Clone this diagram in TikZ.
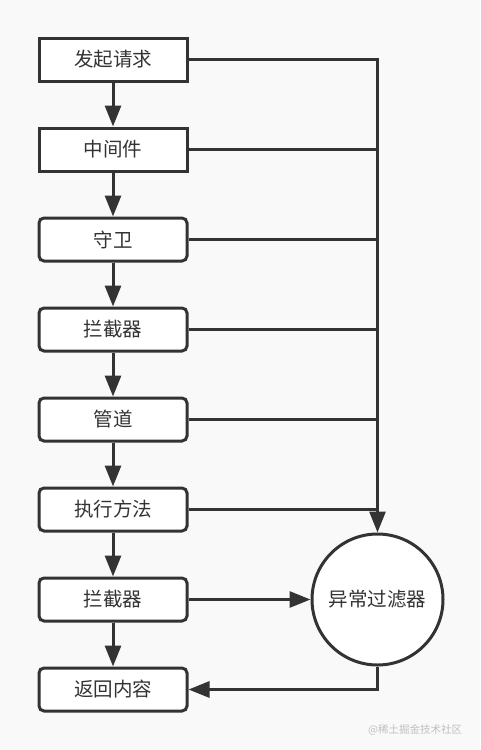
\documentclass[tikz,border=0pt]{standalone}
\usepackage{fontspec}
\setmainfont{Noto Sans CJK SC}
\usepackage{xcolor}
\usetikzlibrary{arrows.meta}
\definecolor{ink}{HTML}{333333}
\definecolor{paper}{HTML}{F9F9F9}

\begin{document}
\begin{tikzpicture}[x=1pt,y=1pt,font=\fontsize{19.5}{23}\selectfont,
 line width=3pt,draw=ink,
 stage/.style={draw=ink,fill=white,minimum width=148pt,minimum height=43pt,inner sep=0pt,text=ink},
 roundstage/.style={stage,rounded corners=5pt},
 filter/.style={draw=ink,fill=white,circle,minimum size=131pt,inner sep=0pt,text=ink},
 arr/.style={-{Triangle[length=21pt,width=16pt]}}]
\fill[paper] (0,0) rectangle (480,-750);
\useasboundingbox (0,0) rectangle (480,-750);
\node[stage] (req) at (113,-59.5) {发起请求};
\node[stage] (mid) at (113,-149.5) {中间件};
\node[roundstage] (guard) at (113,-239.5) {守卫};
\node[roundstage] (intA) at (113,-329.5) {拦截器};
\node[roundstage] (pipe) at (113,-419.5) {管道};
\node[roundstage] (exec) at (113,-509.5) {执行方法};
\node[roundstage] (intB) at (113,-599.5) {拦截器};
\node[roundstage] (resp) at (113,-689.5) {返回内容};
\node[filter] (exc) at (377.5,-599.5) {异常过滤器};
\node[text=black!25,font=\fontsize{10.5}{12}\selectfont,anchor=east] (mark) at (467,-730) {@稀土掘金技术社区};
% main chain
\draw[arr,ink] (req) -- (mid);
\draw[arr,ink] (mid) -- (guard);
\draw[arr,ink] (guard) -- (intA);
\draw[arr,ink] (intA) -- (pipe);
\draw[arr,ink] (pipe) -- (exec);
\draw[arr,ink] (exec) -- (intB);
\draw[arr,ink] (intB) -- (resp);
% exception path
\draw[arr,ink] (req.east) -| (exc.north);
\draw[ink] (mid.east) -- (mid.east -| exc.north);
\draw[ink] (guard.east) -- (guard.east -| exc.north);
\draw[ink] (intA.east) -- (intA.east -| exc.north);
\draw[ink] (pipe.east) -- (pipe.east -| exc.north);
\draw[ink] (exec.east) -- (exec.east -| exc.north);
\draw[arr,ink] (intB) -- (exc);
\draw[arr,ink] (exc.south) |- (resp.east);
\end{tikzpicture}
\end{document}
